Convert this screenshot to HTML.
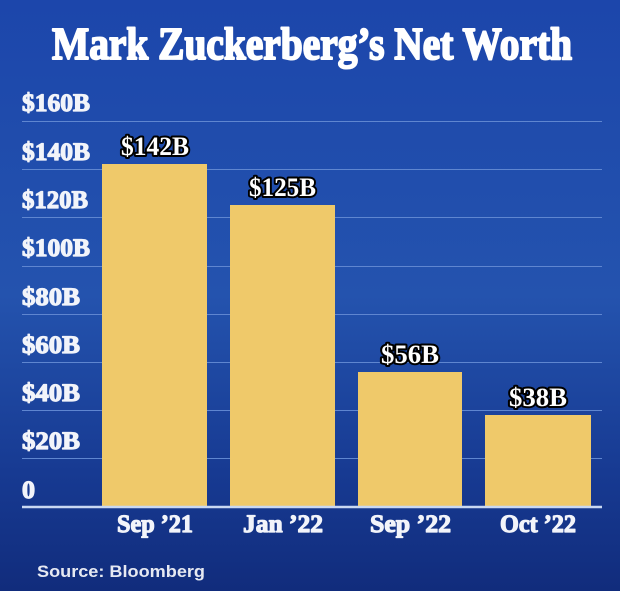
<!DOCTYPE html>
<html><head><meta charset="utf-8"><style>
html,body{margin:0;padding:0;width:620px;height:591px;overflow:hidden}
</style></head><body>
<svg width="620" height="591" viewBox="0 0 620 591" xmlns="http://www.w3.org/2000/svg">
<defs>
<linearGradient id="bg" x1="0" y1="0" x2="0" y2="1">
<stop offset="0" stop-color="#1c46ab"/>
<stop offset="0.5" stop-color="#2453ae"/>
<stop offset="0.8" stop-color="#173a92"/>
<stop offset="1" stop-color="#112c7c"/>
</linearGradient>
</defs>
<rect width="620" height="591" fill="url(#bg)"/>
<text x="52" y="59" font-family="Liberation Serif, serif" font-weight="bold" font-size="46" fill="#fff" stroke="#fff" stroke-width="2" stroke-linejoin="round" textLength="520" lengthAdjust="spacingAndGlyphs">Mark Zuckerberg’s Net Worth</text>
<g stroke="#5f86d0" stroke-width="1">
<line x1="22" y1="121.5" x2="602" y2="121.5"/>
<line x1="22" y1="169.5" x2="602" y2="169.5"/>
<line x1="22" y1="217.5" x2="602" y2="217.5"/>
<line x1="22" y1="266.5" x2="602" y2="266.5"/>
<line x1="22" y1="314.5" x2="602" y2="314.5"/>
<line x1="22" y1="362.5" x2="602" y2="362.5"/>
<line x1="22" y1="410.5" x2="602" y2="410.5"/>
<line x1="22" y1="458.5" x2="602" y2="458.5"/>
</g>
<g font-family="Liberation Serif, serif" font-weight="bold" font-size="25" fill="#f2f4fa" stroke="#f2f4fa" stroke-width="1.2" stroke-linejoin="round">
<text x="22" y="111" textLength="68" lengthAdjust="spacingAndGlyphs">$160B</text>
<text x="22" y="160" textLength="68" lengthAdjust="spacingAndGlyphs">$140B</text>
<text x="22" y="208" textLength="66" lengthAdjust="spacingAndGlyphs">$120B</text>
<text x="22" y="256" textLength="68" lengthAdjust="spacingAndGlyphs">$100B</text>
<text x="22" y="305" textLength="58" lengthAdjust="spacingAndGlyphs">$80B</text>
<text x="22" y="353" textLength="58" lengthAdjust="spacingAndGlyphs">$60B</text>
<text x="22" y="401" textLength="58" lengthAdjust="spacingAndGlyphs">$40B</text>
<text x="22" y="449" textLength="58" lengthAdjust="spacingAndGlyphs">$20B</text>
<text x="22" y="498" textLength="13" lengthAdjust="spacingAndGlyphs">0</text>
</g>
<g fill="#efc96a">
<rect x="102" y="164" width="105" height="343"/>
<rect x="230" y="205" width="105" height="302"/>
<rect x="358" y="372" width="104" height="135"/>
<rect x="485" y="415" width="106" height="92"/>
</g>
<line x1="22" y1="507" x2="602" y2="507" stroke="#c9d8f2" stroke-width="2.5"/>
<g font-family="Liberation Serif, serif" font-weight="bold" font-size="26" fill="#fff" stroke="#000" stroke-width="4" paint-order="stroke" stroke-linejoin="round">
<text x="121" y="155" textLength="68" lengthAdjust="spacingAndGlyphs">$142B</text>
<text x="249" y="196" textLength="67" lengthAdjust="spacingAndGlyphs">$125B</text>
<text x="381" y="363" textLength="58" lengthAdjust="spacingAndGlyphs">$56B</text>
<text x="509" y="406" textLength="58" lengthAdjust="spacingAndGlyphs">$38B</text>
</g>
<g font-family="Liberation Serif, serif" font-weight="bold" font-size="25" fill="#f2f4fa" stroke="#f2f4fa" stroke-width="1.2" stroke-linejoin="round">
<text x="117" y="532" textLength="76" lengthAdjust="spacingAndGlyphs">Sep ’21</text>
<text x="243" y="532" textLength="80" lengthAdjust="spacingAndGlyphs">Jan ’22</text>
<text x="370" y="532" textLength="81" lengthAdjust="spacingAndGlyphs">Sep ’22</text>
<text x="500" y="532" textLength="76" lengthAdjust="spacingAndGlyphs">Oct ’22</text>
</g>
<text x="37" y="577" font-family="Liberation Sans, sans-serif" font-weight="bold" font-size="17" fill="#e6e9f2" textLength="168" lengthAdjust="spacingAndGlyphs">Source: Bloomberg</text>
</svg>
</body></html>
